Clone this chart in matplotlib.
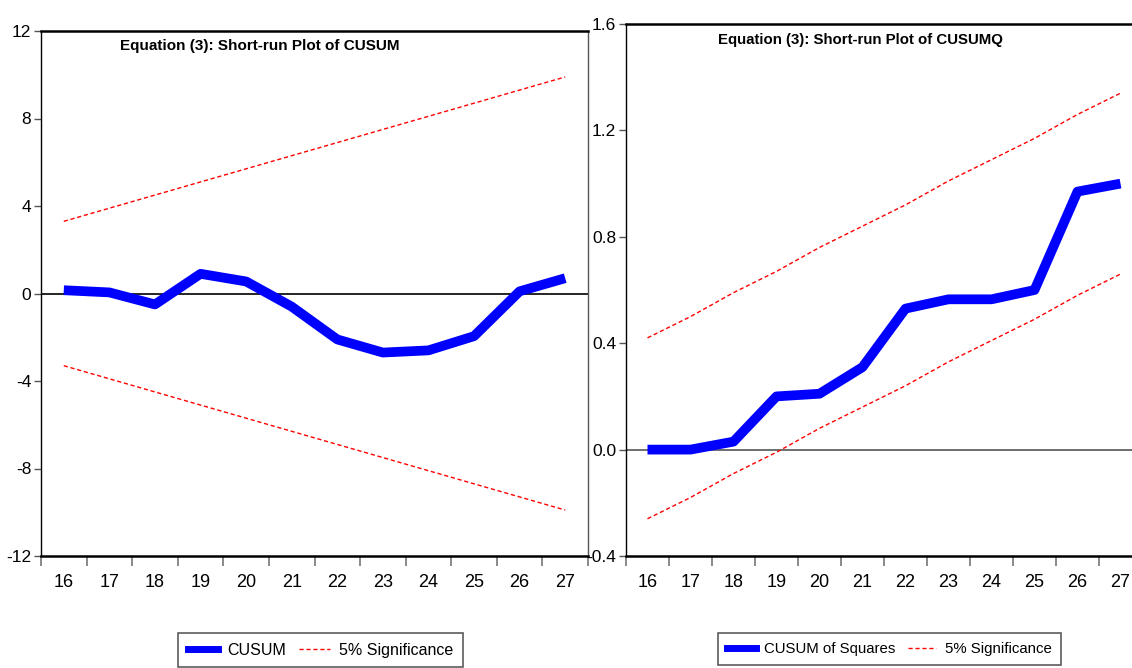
import matplotlib
matplotlib.use("Agg")
import matplotlib.pyplot as plt
from matplotlib.lines import Line2D

plt.rcParams['font.family'] = ['Liberation Sans', 'DejaVu Sans']

periods = ['16', '17', '18', '19', '20', '21', '22', '23', '24', '25', '26', '27']

# recursive residual CUSUM with 5% bands
cusum = [0.15, 0.05, -0.5, 0.9, 0.55, -0.6, -2.1, -2.7, -2.6, -1.95, 0.1, 0.7]
cusum_upper = [3.3, 3.9, 4.5, 5.1, 5.7, 6.3, 6.9, 7.5, 8.1, 8.7, 9.3, 9.9]
cusum_lower = [-3.3, -3.9, -4.5, -5.1, -5.7, -6.3, -6.9, -7.5, -8.1, -8.7, -9.3, -9.9]

# CUSUM of squares with 5% bands
cusumq = [0.0, 0.0, 0.03, 0.2, 0.21, 0.31, 0.53, 0.565, 0.565, 0.6, 0.97, 1.0]
cusumq_upper = [0.42, 0.5, 0.59, 0.67, 0.76, 0.84, 0.92, 1.01, 1.09, 1.17, 1.26, 1.34]
cusumq_lower = [-0.26, -0.18, -0.09, -0.01, 0.08, 0.16, 0.24, 0.33, 0.41, 0.49, 0.58, 0.66]

W, H = 1132, 668
fig = plt.figure(figsize=(W / 100, H / 100), dpi=100)

BLUE = '#0000ff'
DASH = (0, (3, 2))


def px_axes(x0, y0, x1, y1):
    return fig.add_axes([x0 / W, 1 - y1 / H, (x1 - x0) / W, (y1 - y0) / H])


def style_axes(ax, yticks, fmt, zero_color):
    x = list(range(len(periods)))
    ax.set_xlim(-0.5, len(periods) - 0.5)
    # boundary ticks without labels, labels at the centres
    ax.set_xticks([i - 0.5 for i in range(len(periods) + 1)])
    ax.set_xticklabels([])
    ax.set_xticks(x, minor=True)
    ax.set_xticklabels(periods, minor=True)
    ax.tick_params(axis='x', which='major', direction='out', length=7.5, width=1.2, color='#777777')
    ax.tick_params(axis='x', which='minor', length=0, pad=13, labelsize=13)
    ax.set_yticks(yticks)
    ax.set_yticklabels([fmt.format(v) for v in yticks])
    ax.set_ylim(yticks[0], yticks[-1])
    ax.tick_params(axis='y', direction='out', length=5, width=1, color='#555555', pad=2, labelsize=12.5)
    ax.axhline(0, color=zero_color, lw=1.2, zorder=1)
    ax.spines['top'].set_linewidth(1.8)
    ax.spines['bottom'].set_linewidth(1.8)
    ax.spines['left'].set_linewidth(1.0)
    ax.spines['right'].set_linewidth(1.0)
    ax.spines['right'].set_color('#555555')


x = list(range(len(periods)))

# left panel: CUSUM
ax1 = px_axes(41, 31, 588, 556)
ax1.plot(x, cusum_upper, color='red', lw=1.0, ls=DASH, zorder=2)
ax1.plot(x, cusum_lower, color='red', lw=1.0, ls=DASH, zorder=2)
ax1.plot(x, cusum, color=BLUE, lw=7, zorder=3, solid_capstyle='butt')
style_axes(ax1, [-12, -8, -4, 0, 4, 8, 12], '{:d}', 'black')
ax1.text(0.144, 0.971, 'Equation (3): Short-run Plot of CUSUM', transform=ax1.transAxes,
         fontsize=11, fontweight='bold', va='center', ha='left')

# right panel: CUSUM of squares (runs past the right edge)
ax2 = px_axes(626, 24, 1142, 556)
ax2.plot(x, cusumq_upper, color='red', lw=1.0, ls=DASH, zorder=2)
ax2.plot(x, cusumq_lower, color='red', lw=1.0, ls=DASH, zorder=2)
ax2.plot(x, cusumq, color=BLUE, lw=7, zorder=3, solid_capstyle='butt')
style_axes(ax2, [-0.4, 0.0, 0.4, 0.8, 1.2, 1.6], '{:.1f}', '#555555')
ax2.text(0.178, 0.970, 'Equation (3): Short-run Plot of CUSUMQ', transform=ax2.transAxes,
         fontsize=10.8, fontweight='bold', va='center', ha='left')

# legends below each panel, clipped at the bottom of the figure
for labels, left, size in ((['CUSUM', '5% Significance'], 178, 11.5),
                           (['CUSUM of Squares', '5% Significance'], 718, 10.8)):
    handles = [Line2D([], [], color=BLUE, lw=5),
               Line2D([], [], color='red', lw=1.0, ls=DASH)]
    leg = fig.legend(handles, labels, loc='upper left', bbox_to_anchor=(left / W, 1 - 633 / H),
                     ncol=2, fontsize=size, frameon=True, fancybox=False, handlelength=1.9,
                     handletextpad=0.6, columnspacing=0.8, borderpad=0.6, borderaxespad=0)
    leg.get_frame().set_edgecolor('#333333')
    leg.get_frame().set_linewidth(1.2)

fig.savefig('out.png', dpi=100)
